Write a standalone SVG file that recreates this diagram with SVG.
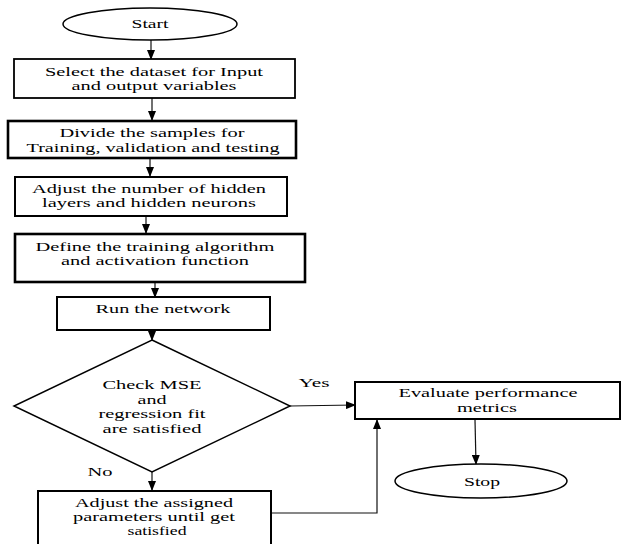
<svg xmlns="http://www.w3.org/2000/svg" width="622" height="544" viewBox="0 0 622 544">
<style>
.s{fill:#fff;stroke:#000}
.t{font-family:'Liberation Serif','DejaVu Serif',serif;font-size:13px;fill:#000;text-anchor:middle}
.c{fill:none;stroke:#111;stroke-width:1.2}
</style>
<defs>
<marker id="a" markerWidth="10" markerHeight="8" refX="9" refY="4" orient="auto" markerUnits="userSpaceOnUse">
<path d="M0,0 L10,4 L0,8 Z" fill="#000"/>
</marker>
</defs>
<rect width="622" height="544" fill="#fff"/>
<g id="connectors" font-family="Liberation Serif">
<path class="c" d="M151,40 V59" marker-end="url(#a)"/>
<path class="c" d="M152,98 V120" marker-end="url(#a)"/>
<path class="c" d="M150,158 V176" marker-end="url(#a)"/>
<path class="c" d="M146,217 V233" marker-end="url(#a)"/>
<path class="c" d="M155,283 V297" marker-end="url(#a)"/>
<path class="c" d="M152,330 V340" marker-end="url(#a)"/>
<path class="c" d="M152,472 V490" marker-end="url(#a)"/>
<path class="c" d="M290,406 L355,405" marker-end="url(#a)"/>
<path class="c" d="M271,513 H377 V420" stroke="#666" marker-end="url(#a)"/>
<path class="c" d="M475,420 L476,464" marker-end="url(#a)"/>
<text class="t" x="314" y="387" textLength="31" lengthAdjust="spacingAndGlyphs">Yes</text>
<text class="t" x="100" y="476" textLength="25" lengthAdjust="spacingAndGlyphs">No</text>
</g>
<g id="start">
<ellipse class="s" cx="150" cy="24" rx="87" ry="16" stroke-width="1.5"/>
<text class="t" x="150" y="28" textLength="37" lengthAdjust="spacingAndGlyphs">Start</text>
</g>
<g id="select">
<rect class="s" x="14" y="59" width="281" height="39" stroke-width="1.8"/>
<text class="t" x="154" y="76" textLength="218" lengthAdjust="spacingAndGlyphs">Select the dataset for Input</text>
<text class="t" x="154" y="90" textLength="165" lengthAdjust="spacingAndGlyphs">and output variables</text>
</g>
<g id="divide">
<rect class="s" x="8" y="121" width="288" height="37" stroke-width="2.6"/>
<text class="t" x="152" y="137" textLength="185" lengthAdjust="spacingAndGlyphs">Divide the samples for</text>
<text class="t" x="153" y="152" textLength="253" lengthAdjust="spacingAndGlyphs">Training, validation and testing</text>
</g>
<g id="hidden">
<rect class="s" x="15" y="177" width="272" height="39" stroke-width="2"/>
<text class="t" x="149" y="193" textLength="234" lengthAdjust="spacingAndGlyphs">Adjust the number of hidden</text>
<text class="t" x="149" y="207" textLength="214" lengthAdjust="spacingAndGlyphs">layers and hidden neurons</text>
</g>
<g id="define">
<rect class="s" x="15" y="234" width="290" height="48" stroke-width="2.6"/>
<text class="t" x="155" y="251" textLength="239" lengthAdjust="spacingAndGlyphs">Define the training algorithm</text>
<text class="t" x="155" y="265" textLength="188" lengthAdjust="spacingAndGlyphs">and activation function</text>
</g>
<g id="run">
<rect class="s" x="57" y="297" width="213" height="33" stroke-width="2"/>
<text class="t" x="163" y="313" textLength="135" lengthAdjust="spacingAndGlyphs">Run the network</text>
</g>
<g id="check">
<polygon class="s" points="152,340 290,406 152,472 14,406" stroke-width="1.5"/>
<text class="t" x="152" y="389" textLength="99" lengthAdjust="spacingAndGlyphs">Check MSE</text>
<text class="t" x="152" y="404" textLength="29" lengthAdjust="spacingAndGlyphs">and</text>
<text class="t" x="152" y="418" textLength="107" lengthAdjust="spacingAndGlyphs">regression fit</text>
<text class="t" x="152" y="433" textLength="99" lengthAdjust="spacingAndGlyphs">are satisfied</text>
</g>
<g id="adjust">
<rect class="s" x="38" y="491" width="233" height="58" stroke-width="2"/>
<text class="t" x="154" y="507" textLength="158" lengthAdjust="spacingAndGlyphs">Adjust the assigned</text>
<text class="t" x="154" y="521" textLength="162" lengthAdjust="spacingAndGlyphs">parameters until get</text>
<text class="t" x="157" y="535" textLength="59" lengthAdjust="spacingAndGlyphs">satisfied</text>
</g>
<g id="evaluate">
<rect class="s" x="355" y="382" width="265" height="37" stroke-width="2"/>
<text class="t" x="488" y="397" textLength="179" lengthAdjust="spacingAndGlyphs">Evaluate performance</text>
<text class="t" x="487" y="412" textLength="60" lengthAdjust="spacingAndGlyphs">metrics</text>
</g>
<g id="stop">
<ellipse class="s" cx="481" cy="481" rx="86" ry="17" stroke-width="1.5"/>
<text class="t" x="482" y="486" textLength="36" lengthAdjust="spacingAndGlyphs">Stop</text>
</g>
</svg>
